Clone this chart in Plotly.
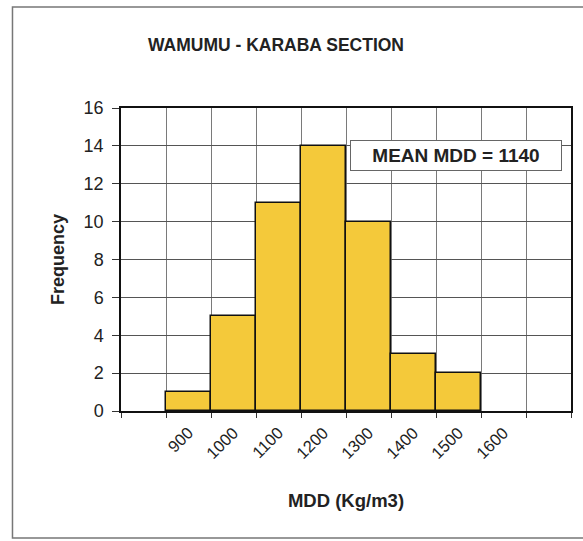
import plotly.graph_objects as go

# MDD class values (Kg/m3) and their frequencies
mdd_classes = [900, 1000, 1100, 1200, 1300, 1400, 1500, 1600]
frequency = [1, 5, 11, 14, 10, 3, 2, 0]
tick_labels = ["900", "1000", "1100", "1200", "1300", "1400", "1500", "1600"]
mean_mdd = 1140

bin_width = 100
font_family = "Liberation Sans, Arial, sans-serif"
text_color = "#222222"

# empty classes get no outline so the axis line stays clean
outline_widths = [1.5 if f > 0 else 0 for f in frequency]

fig = go.Figure()
fig.add_trace(go.Bar(
    x=mdd_classes,
    y=frequency,
    width=bin_width,
    marker=dict(color="#F4C93A", line=dict(color="#111111", width=outline_widths)),
    showlegend=False,
))

fig.update_layout(
    width=583,
    height=541,
    margin=dict(l=121, r=10, t=108, b=130),
    paper_bgcolor="white",
    plot_bgcolor="white",
    font=dict(family=font_family, color=text_color, size=16),
    title=dict(
        text="<b>WAMUMU - KARABA SECTION</b>",
        x=276 / 583, xanchor="center",
        y=1 - 45 / 541, yanchor="middle",
        font=dict(size=17.5, color=text_color),
    ),
    bargap=0,
    xaxis=dict(
        range=[mdd_classes[0] - 1.5 * bin_width, mdd_classes[-1] + 1.5 * bin_width],
        tickmode="array",
        tickvals=mdd_classes,
        ticktext=tick_labels,
        tickangle=-45,
        ticks="",
        showgrid=False,
        tickfont=dict(size=16.5, color=text_color),
        ticklabelstandoff=4,
        showline=True, linecolor="#111111", linewidth=1.5, mirror=True,
        zeroline=False,
        minor=dict(
            tickmode="linear",
            tick0=mdd_classes[0] - bin_width / 2,
            dtick=bin_width,
            ticks="outside", ticklen=5, tickcolor="#333333",
            showgrid=True, gridcolor="#7a7a7a", gridwidth=1,
        ),
        title=dict(text="<b>MDD (Kg/m3)</b>", font=dict(size=18.5, color=text_color), standoff=33),
    ),
    yaxis=dict(
        range=[0, 16],
        dtick=2,
        ticks="outside", ticklen=7, tickcolor="#333333",
        tickfont=dict(size=18, color=text_color),
        ticklabelstandoff=5,
        showgrid=True, gridcolor="#555555", gridwidth=1,
        showline=True, linecolor="#111111", linewidth=1.5, mirror=True,
        zeroline=False,
        title=dict(text="<b>Frequency</b>", font=dict(size=18, color=text_color), standoff=14),
    ),
)

# Outer chart frame
fig.add_shape(
    type="rect", xref="paper", yref="paper",
    x0=(12 - 121) / 452, x1=(600 - 121) / 452,
    y0=(411 - 538) / 303, y1=(411 - 7) / 303,
    line=dict(color="#777777", width=1.5), fillcolor="rgba(0,0,0,0)",
    layer="below",
)

# Mean label box
fig.add_annotation(
    xref="paper", yref="paper",
    x=(457 - 121) / 452, y=(411 - 155) / 303,
    text="<b>MEAN MDD = %d</b>" % mean_mdd,
    showarrow=False,
    font=dict(size=19, color=text_color),
    bgcolor="white",
    bordercolor="#666666", borderwidth=1,
    borderpad=2,
    width=206, height=25,
    xanchor="center", yanchor="middle",
)

fig.write_html("out.html")
